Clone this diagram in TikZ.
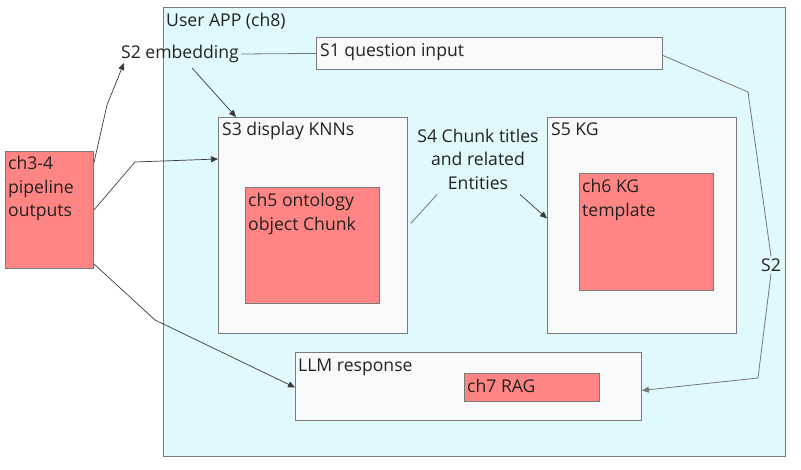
\documentclass[tikz,border=0pt]{standalone}
\usepackage{fontspec}
\setmainfont{Open Sans}
\usetikzlibrary{arrows.meta,calc}
\definecolor{appfill}{HTML}{E0F9FC}
\definecolor{boxfill}{HTML}{F8F9FB}
\definecolor{redfill}{HTML}{FF8585}
\definecolor{edgegray}{HTML}{7A7A7A}
\definecolor{conndark}{HTML}{3A3A3A}
\definecolor{conngray}{HTML}{777777}
\definecolor{txt}{HTML}{222222}
\tikzset{
  box/.style={draw=edgegray, fill=boxfill, line width=0.9pt, anchor=north west, inner sep=0pt},
  appbox/.style={box, fill=appfill},
  redbox/.style={box, fill=redfill},
  lbl/.style={anchor=base west, inner sep=0pt, text=txt, font=\fontsize{17.6}{23.5}\selectfont},
  mlbl/.style={anchor=north west, inner sep=0pt, text=txt, align=left, font=\fontsize{17.6}{23.5}\selectfont},
  flt/.style={inner sep=2pt, text=txt, align=center, font=\fontsize{17.6}{23.5}\selectfont},
  conn/.style={draw=conngray, line width=0.8pt},
  arr/.style={draw=conndark, line width=0.7pt, -{Triangle[length=7pt,width=6pt]}},
  arrg/.style={draw=conngray, line width=0.8pt, -{Triangle[length=7pt,width=6pt]}}
}
\begin{document}
\begin{tikzpicture}[x=1pt,y=-1pt]
\useasboundingbox (0,0) rectangle (801,470);
% boxes
\node[appbox, minimum width=622pt, minimum height=449pt] (app) at (163,7) {};
\node[box, minimum width=346pt, minimum height=32pt] (s1) at (316,37) {};
\node[box, minimum width=189pt, minimum height=216pt] (s3) at (218,117) {};
\node[redbox, minimum width=134pt, minimum height=116pt] (ch5) at (245,187) {};
\node[box, minimum width=189pt, minimum height=216pt] (s5) at (547,117) {};
\node[redbox, minimum width=134pt, minimum height=117pt] (ch6) at (579,173) {};
\node[box, minimum width=346pt, minimum height=68pt] (llm) at (295,352) {};
\node[redbox, minimum width=135pt, minimum height=28pt] (ch7) at (464,373) {};
\node[redbox, minimum width=88pt, minimum height=117pt] (ch34) at (5,151) {};
% labels
\node[lbl] (appl) at (166,27) {User APP (ch8)};
\node[lbl] (s1l) at (320,57) {S1 question input};
\node[lbl] (s3l) at (222,136) {S3 display KNNs};
\node[mlbl] (ch5l) at (248,193) {ch5 ontology\\object Chunk};
\node[lbl] (s5l) at (551,136) {S5 KG};
\node[mlbl] (ch6l) at (582,179) {ch6 KG\\template};
\node[lbl] (llml) at (298,372) {LLM response};
\node[lbl] (ch7l) at (467,392) {ch7 RAG};
\node[mlbl] (ch34l) at (8,156) {ch3-4\\pipeline\\outputs};
% floating labels
\node[flt] (s2e) at (180,54) {S2 embedding};
\node[flt] (s4) at (478,159) {S4 Chunk titles\\and related\\Entities};
\node[flt] (s2r) at (771,265) {S2};
% connectors
\coordinate (k1) at (107,105);
\coordinate (k2) at (135,162);
\coordinate (k3) at (155,320);
\coordinate (k4) at (748,92);
\coordinate (k5) at (758,378);
\draw[conn] (s1.west) -- (s2e.east);
\draw[arr] ($(s2e.south)+(12,3)$) -- ($(s3.north west)+(18,0)$);
\draw[arr] ($(ch34.north east)+(0,12)$) -- (k1) -- ($(s2e.south west)+(5,-2)$);
\draw[arr] ($(ch34.east)+(0,0)$) -- (k2) -- ($(s3.north west)+(0,42)$);
\draw[arr] ($(ch34.south east)+(0,-5)$) -- (k3) -- ($(llm.west)+(0,1)$);
\draw[conn] ($(s1.east)+(0,2)$) -- (k4) -- (s2r.north);
\draw[arrg] (s2r.south) -- (k5) -- ($(llm.east)+(0,4)$);
\draw[conn] ($(s3.east)+(3,-2)$) -- ($(s4.south)+(-41,3)$);
\draw[arr] ($(s4.south)+(42,3)$) -- ($(s5.west)+(0,-7)$);
\end{tikzpicture}
\end{document}
